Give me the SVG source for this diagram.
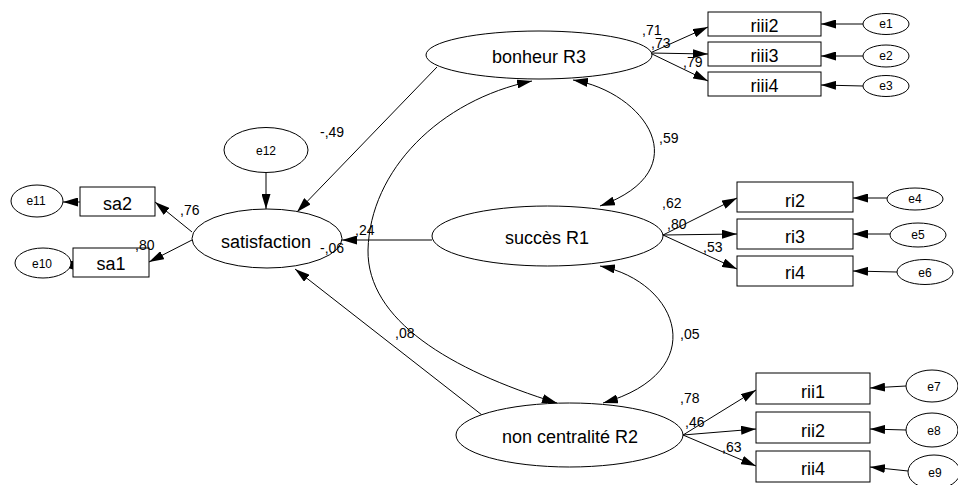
<svg xmlns="http://www.w3.org/2000/svg" width="958" height="485" viewBox="0 0 958 485">
<style>
.sh{fill:#fff;stroke:#000;stroke-width:1}
.ln{fill:none;stroke:#000;stroke-width:1;marker-end:url(#ah)}
.cv{fill:none;stroke:#000;stroke-width:1;marker-start:url(#ah);marker-end:url(#ah)}
text{font-family:"Liberation Sans",Arial,sans-serif;fill:#000}
.big{font-size:18px;text-anchor:middle}
.err{font-size:12px;text-anchor:middle}
.lab{font-size:14px}
</style>
<defs>
<marker id="ah" markerUnits="userSpaceOnUse" markerWidth="15" markerHeight="9" viewBox="0 0 15 9" refX="15" refY="4.5" orient="auto-start-reverse">
<path d="M0,0 L15,4.5 L0,9 z" fill="#000"/>
</marker>
</defs>
<rect width="958" height="485" fill="#fff"/>
<g id="connectors">
<path class="ln" d="M650,53 L708,27"/>
<path class="ln" d="M650,53 L708,54"/>
<path class="ln" d="M650,53 L708,81"/>
<path class="ln" d="M863,24 L821,24"/>
<path class="ln" d="M863,56 L821,56"/>
<path class="ln" d="M863,86 L821,85"/>
<path class="ln" d="M663,235 L737,198"/>
<path class="ln" d="M663,235 L737,234"/>
<path class="ln" d="M663,235 L737,269"/>
<path class="ln" d="M887,198 L853,198"/>
<path class="ln" d="M890,234 L853,234"/>
<path class="ln" d="M897,272 L853,271"/>
<path class="ln" d="M683,435 L756,390"/>
<path class="ln" d="M683,435 L756,429"/>
<path class="ln" d="M683,435 L756,466"/>
<path class="ln" d="M906,386 L870,388"/>
<path class="ln" d="M906,430 L870,429"/>
<path class="ln" d="M908,471 L870,467"/>
<path class="ln" d="M192,232 L155,202"/>
<path class="ln" d="M192,240 L149,262"/>
<path class="ln" d="M80,202 L63,202"/>
<path class="ln" d="M73,265 L58,265"/>
<path class="ln" d="M266,173 L266,209"/>
<path class="ln" d="M437,67 L297,212"/>
<path class="ln" d="M432,240 L342,240"/>
<path class="ln" d="M482,415 L295,269"/>
<path class="cv" d="M573,80 C645,92 700,170 600,206"/>
<path class="cv" d="M532,81 C440,100 370,170 368,250 C367,320 450,370 557,403"/>
<path class="cv" d="M600,266 C680,282 712,372 603,403"/>
</g>
<g id="bonheur"><ellipse class="sh" cx="539" cy="55" rx="113" ry="24"/><text class="big" x="539" y="63">bonheur R3</text></g>
<g id="succes"><ellipse class="sh" cx="547.5" cy="236" rx="115.5" ry="30"/><text class="big" x="547" y="244">succès R1</text></g>
<g id="noncentralite"><ellipse class="sh" cx="569.5" cy="435" rx="113.5" ry="32"/><text class="big" x="570" y="443">non centralité R2</text></g>
<g id="satisfaction"><ellipse class="sh" cx="267" cy="238.5" rx="75" ry="29.5"/><text class="big" x="266" y="248">satisfaction</text></g>
<g id="e12"><ellipse class="sh" cx="266" cy="150" rx="42" ry="22.5"/><text class="err" x="266" y="155">e12</text></g>
<g id="sa2"><rect class="sh" x="80" y="187" width="75" height="29"/><text class="big" x="117.5" y="210">sa2</text></g>
<g id="sa1"><rect class="sh" x="73" y="248" width="76" height="29"/><text class="big" x="111" y="270">sa1</text></g>
<g id="e11"><ellipse class="sh" cx="37" cy="201" rx="26" ry="16"/><text class="err" x="36" y="205">e11</text></g>
<g id="e10"><ellipse class="sh" cx="43" cy="263" rx="28" ry="15"/><text class="err" x="42" y="268">e10</text></g>
<g id="riii2"><rect class="sh" x="708" y="12" width="113" height="24"/><text class="big" x="764.5" y="32">riii2</text></g>
<g id="riii3"><rect class="sh" x="708" y="42" width="113" height="24"/><text class="big" x="764.5" y="62">riii3</text></g>
<g id="riii4"><rect class="sh" x="708" y="72" width="113" height="24"/><text class="big" x="764.5" y="92">riii4</text></g>
<g id="e1"><ellipse class="sh" cx="886" cy="24" rx="23" ry="10.5"/><text class="err" x="886" y="28">e1</text></g>
<g id="e2"><ellipse class="sh" cx="886" cy="56" rx="23" ry="11"/><text class="err" x="886" y="60">e2</text></g>
<g id="e3"><ellipse class="sh" cx="886" cy="86" rx="23" ry="10.5"/><text class="err" x="886" y="90">e3</text></g>
<g id="ri2"><rect class="sh" x="737" y="182" width="116" height="30"/><text class="big" x="795" y="207">ri2</text></g>
<g id="ri3"><rect class="sh" x="737" y="219" width="116" height="30"/><text class="big" x="795" y="243">ri3</text></g>
<g id="ri4"><rect class="sh" x="737" y="256" width="116" height="30"/><text class="big" x="795" y="279">ri4</text></g>
<g id="e4"><ellipse class="sh" cx="915" cy="199" rx="28" ry="11"/><text class="err" x="915" y="203">e4</text></g>
<g id="e5"><ellipse class="sh" cx="918" cy="235" rx="28" ry="12"/><text class="err" x="918" y="239">e5</text></g>
<g id="e6"><ellipse class="sh" cx="925" cy="272" rx="28" ry="12.5"/><text class="err" x="925" y="277">e6</text></g>
<g id="rii1"><rect class="sh" x="756" y="373" width="114" height="31"/><text class="big" x="813" y="398">rii1</text></g>
<g id="rii2"><rect class="sh" x="756" y="412" width="114" height="31"/><text class="big" x="813" y="437">rii2</text></g>
<g id="rii4"><rect class="sh" x="756" y="451" width="114" height="31"/><text class="big" x="813" y="475">rii4</text></g>
<g id="e7"><ellipse class="sh" cx="932" cy="386" rx="26" ry="16"/><text class="err" x="934" y="391">e7</text></g>
<g id="e8"><ellipse class="sh" cx="932" cy="430" rx="26" ry="17"/><text class="err" x="934" y="435">e8</text></g>
<g id="e9"><ellipse class="sh" cx="934" cy="472" rx="26" ry="17"/><text class="err" x="935" y="477">e9</text></g>
<g id="labels" class="lab">
<text class="lab" x="642" y="35">,71</text>
<text class="lab" x="651" y="48">,73</text>
<text class="lab" x="683" y="67">,79</text>
<text class="lab" x="662" y="208">,62</text>
<text class="lab" x="667" y="229">,80</text>
<text class="lab" x="703" y="252">,53</text>
<text class="lab" x="680" y="403">,78</text>
<text class="lab" x="685" y="427">,46</text>
<text class="lab" x="722" y="452">,63</text>
<text class="lab" x="180" y="215">,76</text>
<text class="lab" x="135" y="250">,80</text>
<text class="lab" x="320" y="137">-,49</text>
<text class="lab" x="355" y="235">,24</text>
<text class="lab" x="320" y="253">-,06</text>
<text class="lab" x="395" y="338">,08</text>
<text class="lab" x="659" y="143">,59</text>
<text class="lab" x="680" y="339">,05</text>
</g>
</svg>
